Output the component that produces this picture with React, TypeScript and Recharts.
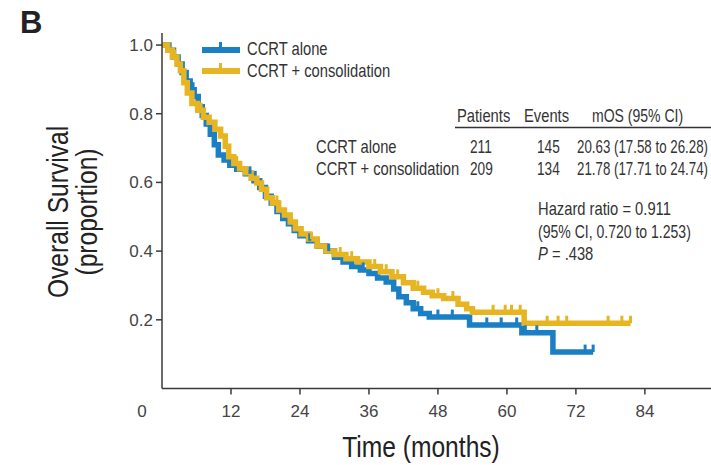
import React from "react";
import { ComposedChart, Line, Scatter, XAxis, YAxis } from "recharts";

const SANS = "'Liberation Sans', Arial, sans-serif";

const BLUE = "#1a7fc3";
const GOLD = "#e6b521";
const AXIS = "#3a3a3a";

const xTicks = [0, 12, 24, 36, 48, 60, 72, 84];
const yTicks = [0.2, 0.4, 0.6, 0.8, 1.0];

// [months, survival]
const aloneSteps = [
  [0, 1.0], [1.2, 0.985], [2.0, 0.965], [2.8, 0.945], [3.5, 0.92], [4.2, 0.895], [4.9, 0.87],
  [5.6, 0.85], [6.3, 0.82], [7.0, 0.795], [7.7, 0.77], [8.4, 0.74], [9.1, 0.71], [9.8, 0.68],
  [10.8, 0.665], [11.8, 0.65], [13.0, 0.638], [14.5, 0.625], [16.0, 0.605], [17.0, 0.585],
  [18.0, 0.56], [19.0, 0.54], [20.0, 0.515], [21.0, 0.495], [22.0, 0.48], [23.0, 0.46],
  [24.0, 0.445], [25.5, 0.43], [27.0, 0.415], [28.5, 0.4], [30.0, 0.382], [31.5, 0.368],
  [33.0, 0.355], [34.5, 0.345], [36.0, 0.335], [37.5, 0.322], [39.0, 0.31], [40.3, 0.29],
  [41.2, 0.267], [42.5, 0.25], [43.7, 0.232], [45.0, 0.218], [46.5, 0.208], [53.5, 0.185],
  [62.6, 0.162], [68.0, 0.106], [75.0, 0.106],
];
const aloneCensor = [
  [5.4, 0.87], [15.3, 0.625], [25.7, 0.43], [29.0, 0.4], [35.0, 0.345], [44.5, 0.232],
  [48.0, 0.208], [50.5, 0.208], [56.5, 0.185], [59.0, 0.185], [61.7, 0.185], [63.2, 0.162],
  [65.2, 0.162], [73.6, 0.106], [75.0, 0.106],
];

const consSteps = [
  [0, 1.0], [1.0, 0.985], [1.8, 0.965], [2.6, 0.945], [3.2, 0.925], [3.8, 0.89], [4.4, 0.86],
  [5.2, 0.83], [6.2, 0.81], [7.2, 0.79], [8.2, 0.775], [9.2, 0.755], [10.2, 0.735], [11.0, 0.705],
  [11.6, 0.675], [12.5, 0.655], [13.5, 0.64], [14.5, 0.628], [15.5, 0.612], [16.5, 0.598],
  [17.3, 0.58], [18.2, 0.555], [19.2, 0.54], [20.3, 0.52], [21.3, 0.505], [22.3, 0.485],
  [23.2, 0.465], [24.2, 0.45], [25.5, 0.435], [27.0, 0.415], [28.5, 0.4], [30.0, 0.39],
  [32.0, 0.378], [34.0, 0.368], [36.0, 0.355], [38.0, 0.34], [40.0, 0.325], [42.0, 0.308],
  [43.7, 0.292], [45.5, 0.28], [47.0, 0.27], [49.0, 0.262], [51.5, 0.245], [53.0, 0.232],
  [54.0, 0.222], [63.0, 0.19], [81.5, 0.19],
];
const consCensor = [
  [2.2, 0.965], [6.8, 0.81], [13.0, 0.655], [20.0, 0.54], [26.0, 0.435], [31.0, 0.39],
  [33.0, 0.378], [37.0, 0.355], [39.0, 0.34], [41.0, 0.325], [44.5, 0.292], [48.0, 0.27],
  [50.6, 0.262], [57.6, 0.222], [59.7, 0.222], [60.8, 0.222], [62.3, 0.222], [67.0, 0.19],
  [68.9, 0.19], [70.4, 0.19], [77.6, 0.19], [80.0, 0.19], [81.5, 0.19],
];

const toRows = (pts: number[][]) => pts.map(([t, s]) => ({ t, s }));

// no narrow font installed, so squeeze Liberation Sans horizontally
function NText({ x, y, size = 18, anchor = "start", rotate = false, sx = 0.82, fill = "#333", children }: any) {
  return (
    <g transform={`translate(${x},${y})${rotate ? " rotate(-90)" : ""} scale(${sx},1)`}>
      <text x={0} y={0} textAnchor={anchor} fontSize={size} fontFamily={SANS} fill={fill}>
        {children}
      </text>
    </g>
  );
}

function XTick(props: any) {
  const { x, y, payload } = props;
  const v = payload.value;
  return (
    <g>
      {v !== 0 && <line x1={x} x2={x} y1={y} y2={y + 6} stroke={AXIS} strokeWidth={1.5} />}
      <text x={v === 0 ? x - 20 : x} y={y + 28} textAnchor="middle" fontSize={17} fontFamily={SANS} fill="#444">
        {v}
      </text>
    </g>
  );
}

function YTick(props: any) {
  const { x, y, payload } = props;
  return (
    <g>
      <line x1={x - 6} x2={x} y1={y} y2={y} stroke={AXIS} strokeWidth={1.5} />
      <text x={x - 9} y={y + 6} textAnchor="end" fontSize={17} fontFamily={SANS} fill="#444">
        {payload.value.toFixed(1)}
      </text>
    </g>
  );
}

const censorShape = (color: string) => (p: any) => (
  <rect x={p.cx - 1.5} y={p.cy - 7.5} width={3} height={7.5} fill={color} />
);

export default function App() {
  return (
    <div style={{ position: "absolute", left: 0, top: 0, width: 711, height: 465, background: "#fff", overflow: "hidden" }}>
      <ComposedChart width={711} height={465} margin={{ top: 33, right: 0, bottom: 16.5, left: 102 }}>
        <XAxis
          type="number"
          dataKey="t"
          domain={[0, 95.5]}
          ticks={xTicks}
          interval={0}
          height={60}
          axisLine={{ stroke: AXIS, strokeWidth: 1.5 }}
          tickLine={false}
          tickSize={0}
          tickMargin={0}
          tick={<XTick />}
        />
        <YAxis
          type="number"
          dataKey="s"
          domain={[0, 1.035]}
          ticks={yTicks}
          interval={0}
          width={60}
          axisLine={{ stroke: AXIS, strokeWidth: 1.5 }}
          tickLine={false}
          tickSize={0}
          tickMargin={0}
          tick={<YTick />}
        />
        <Line data={toRows(aloneSteps)} dataKey="s" type="stepAfter" stroke={BLUE} strokeWidth={5.5} dot={false} isAnimationActive={false} />
        <Scatter data={toRows(aloneCensor)} dataKey="s" shape={censorShape(BLUE)} isAnimationActive={false} />
        <Line data={toRows(consSteps)} dataKey="s" type="stepAfter" stroke={GOLD} strokeWidth={5.5} dot={false} isAnimationActive={false} />
        <Scatter data={toRows(consCensor)} dataKey="s" shape={censorShape(GOLD)} isAnimationActive={false} />
      </ComposedChart>
      <svg width={711} height={465} style={{ position: "absolute", left: 0, top: 0, pointerEvents: "none" }}>
        <text x={20} y={33} fontSize={31} fontWeight="bold" fontFamily={SANS} fill="#222">B</text>

        <rect x={202} y={47} width={38} height={6} fill={BLUE} />
        <rect x={219} y={42} width={3} height={6} fill={BLUE} />
        <NText x={247} y={55}>CCRT alone</NText>
        <rect x={202} y={68} width={38} height={6} fill={GOLD} />
        <rect x={219} y={63} width={3} height={6} fill={GOLD} />
        <NText x={247} y={77}>CCRT + consolidation</NText>

        <NText x={457} y={122}>Patients</NText>
        <NText x={524} y={122}>Events</NText>
        <NText x={592} y={122} sx={0.78}>mOS (95% CI)</NText>
        <line x1={455} x2={711} y1={127.5} y2={127.5} stroke="#333" strokeWidth={1.5} />
        <NText x={316} y={153}>CCRT alone</NText>
        <NText x={470} y={153} sx={0.76}>211</NText>
        <NText x={537} y={153} sx={0.76}>145</NText>
        <NText x={577} y={153} sx={0.74}>20.63 (17.58 to 26.28)</NText>
        <NText x={316} y={175}>CCRT + consolidation</NText>
        <NText x={470} y={175} sx={0.76}>209</NText>
        <NText x={537} y={175} sx={0.76}>134</NText>
        <NText x={577} y={175} sx={0.74}>21.78 (17.71 to 24.74)</NText>
        <NText x={538} y={215}>Hazard ratio = 0.911</NText>
        <NText x={538} y={238} sx={0.78}>(95% CI, 0.720 to 1.253)</NText>
        <NText x={538} y={260}>
          <tspan fontStyle="italic">P</tspan> = .438
        </NText>

        <NText x={68} y={212} size={30} anchor="middle" rotate fill="#222">Overall Survival</NText>
        <NText x={97} y={212} size={30} anchor="middle" rotate fill="#222">(proportion)</NText>
        <NText x={421} y={457} size={30} anchor="middle" fill="#222">Time (months)</NText>
      </svg>
    </div>
  );
}
